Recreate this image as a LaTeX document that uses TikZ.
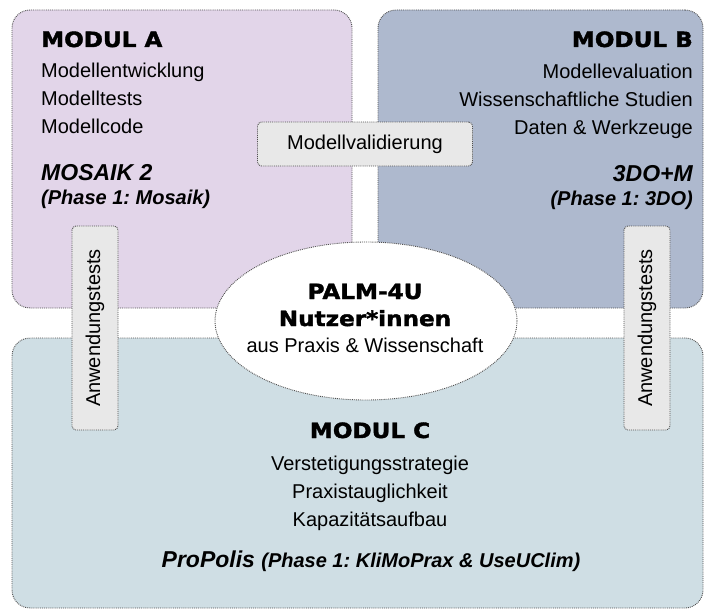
\documentclass[tikz,border=0pt]{standalone}
\usepackage{fontspec}
\setmainfont{Liberation Sans}
\newfontfamily\heavyfont{DejaVu Sans}[FakeStretch=1.1, FakeBold=1.8]
\usetikzlibrary{positioning, shapes.geometric}
\frenchspacing

\definecolor{modA}{RGB}{226,213,233}
\definecolor{modB}{RGB}{174,185,206}
\definecolor{modC}{RGB}{207,222,228}
\definecolor{tagfill}{RGB}{232,232,232}
\definecolor{rim}{RGB}{80,80,80}

\tikzset{
    modbox/.style={draw=rim, densely dotted, line width=0.9pt, rounded corners=18pt},
    tagbox/.style={draw=rim, densely dotted, line width=0.9pt, fill=tagfill,
                   rounded corners=4pt, inner sep=0pt,
                   font=\fontsize{20}{24}\selectfont},
    head/.style={font=\heavyfont\bfseries\fontsize{21}{27}\selectfont, inner sep=0pt},
    item/.style={font=\fontsize{20}{28}\selectfont, inner sep=0pt},
    proj/.style={font=\bfseries\itshape\fontsize{23}{28}\selectfont, inner sep=0pt},
    phase/.style={font=\bfseries\itshape\fontsize{20}{24}\selectfont, inner sep=0pt},
}

\begin{document}
\begin{tikzpicture}[x=1pt, y=-1pt]
    \useasboundingbox (0,0) rectangle (707,610);

    % the three modules
    \node[modbox, fill=modA, minimum width=340pt, minimum height=298pt] at (182,159)   (boxA) {};
    \node[modbox, fill=modB, minimum width=325pt, minimum height=298pt] at (540.5,159) (boxB) {};
    \node[modbox, fill=modC, minimum width=691pt, minimum height=270pt] at (357.5,473) (boxC) {};

    % users in the middle
    \node[ellipse, draw=rim, densely dotted, line width=0.9pt, fill=white,
          minimum width=302pt, minimum height=158pt] at (366,321) (users) {};
    \node[head, anchor=base] at (365,299) (palm) {PALM-4U};
    \node[head, anchor=base] at (365,326) (nutzer) {Nutzer*innen};
    \node[item, anchor=base] at (365,352) (praxis) {aus Praxis \& Wissenschaft};

    % Modul A (base of a list = its last line)
    \node[head, anchor=base west] at (41,47) (headA) {MODUL A};
    \node[item, anchor=base west, align=left] at (41,133) (listA)
        {Modellentwicklung\\ Modelltests\\ Modellcode};
    \node[proj, anchor=base west] at (41,180) (projA) {MOSAIK 2};
    \node[phase, anchor=base west] at (41,204) (phaseA) {(Phase 1: Mosaik)};

    % Modul B
    \node[head, anchor=base east] at (693,47) (headB) {MODUL B};
    \node[item, anchor=base east, align=right] at (693,134) (listB)
        {Modellevaluation\\ Wissenschaftliche Studien\\ Daten \& Werkzeuge};
    \node[proj, anchor=base east] at (693,181) (projB) {3DO+M};
    \node[phase, anchor=base east] at (693,205) (phaseB) {(Phase 1: 3DO)};

    % Modul C
    \node[head, anchor=base] at (370,438) (headC) {MODUL C};
    \node[item, anchor=base, align=center] at (370,526) (listC)
        {Verstetigungsstrategie\\ Praxistauglichkeit\\ Kapazitätsaufbau};
    \node[proj, anchor=base] at (371,567) (projC)
        {ProPolis {\fontsize{20}{24}\selectfont (Phase 1: KliMoPrax \& UseUClim)}};

    % links between the modules
    \node[tagbox, minimum width=215pt, minimum height=44pt] at (365,144) (valid) {Modellvalidierung};
    \node[tagbox, rotate=90, minimum width=204pt, minimum height=46pt] at (95,328)  (testA) {Anwendungstests};
    \node[tagbox, rotate=90, minimum width=204pt, minimum height=46pt] at (647,328) (testB) {Anwendungstests};
\end{tikzpicture}
\end{document}
